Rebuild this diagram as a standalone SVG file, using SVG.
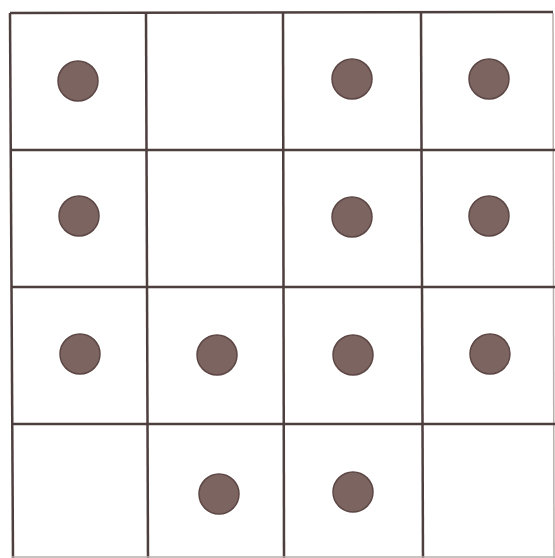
<svg xmlns="http://www.w3.org/2000/svg" width="555" height="558" viewBox="0 0 555 558">
<style>
.g{stroke:#4d3f3e;stroke-width:2.5;fill:none}
.o{stroke:#b9aeac;stroke-width:1.5;fill:none}
.d{fill:#7c6461;stroke:#5c4745;stroke-width:1.5}
</style>
<rect width="555" height="558" fill="#ffffff"/>
<g id="grid">
<line class="g" x1="10" y1="13" x2="13" y2="558"/>
<line class="g" x1="146" y1="13" x2="148" y2="558"/>
<line class="g" x1="283" y1="13" x2="284" y2="558"/>
<line class="g" x1="421" y1="13" x2="423" y2="558"/>
<line class="o" x1="553" y1="13" x2="554" y2="558"/>
<line class="g" x1="10" y1="13" x2="553" y2="12"/>
<line class="g" x1="10" y1="150" x2="555" y2="150"/>
<line class="g" x1="11" y1="287" x2="555" y2="287"/>
<line class="g" x1="12" y1="424" x2="555" y2="424"/>
<line class="o" x1="12" y1="557" x2="555" y2="557"/>
</g>
<g id="dots">
<circle class="d" cx="78" cy="81" r="20"/>
<circle class="d" cx="352" cy="79" r="20"/>
<circle class="d" cx="489" cy="79" r="20"/>
<circle class="d" cx="79" cy="216" r="20"/>
<circle class="d" cx="352" cy="217" r="20"/>
<circle class="d" cx="489" cy="216" r="20"/>
<circle class="d" cx="80" cy="354" r="20"/>
<circle class="d" cx="217" cy="355" r="20"/>
<circle class="d" cx="353" cy="355" r="20"/>
<circle class="d" cx="490" cy="354" r="20"/>
<circle class="d" cx="219" cy="494" r="20"/>
<circle class="d" cx="353" cy="492" r="20"/>
</g>
</svg>
